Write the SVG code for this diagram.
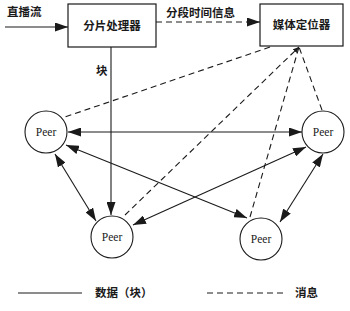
<svg xmlns="http://www.w3.org/2000/svg" width="350" height="311" viewBox="0 0 350 311">
<defs>
<marker id="ah" markerUnits="userSpaceOnUse" markerWidth="13" markerHeight="9" refX="13" refY="4.5" orient="auto-start-reverse">
<path d="M0,0 L13,4.5 L0,9 z" fill="#1a1a1a"/>
</marker>
<marker id="ahs" markerUnits="userSpaceOnUse" markerWidth="6" markerHeight="5" refX="6" refY="2.5" orient="auto">
<path d="M0,0 L6,2.5 L0,5 z" fill="#1a1a1a"/>
</marker>
</defs>
<style>
.box{fill:#fff;stroke:#1a1a1a;stroke-width:1.2}
.peer{fill:#fff;stroke:#1a1a1a;stroke-width:1.1}
.cn{font-family:"Noto Sans CJK SC","Noto Sans",sans-serif;font-size:11.5px;fill:#1a1a1a;font-weight:bold}
.pt{font-family:"Liberation Serif",serif;font-size:11.5px;fill:#1a1a1a;text-anchor:middle}
.s{stroke:#1a1a1a;stroke-width:1.1;fill:none}
.d{stroke:#1a1a1a;stroke-width:1.1;fill:none;stroke-dasharray:6 4}
</style>
<rect width="350" height="311" fill="#fff"/>
<g id="connectors">
<line class="s" x1="5" y1="27" x2="68" y2="27" marker-end="url(#ah)"/>
<line class="d" x1="156" y1="22" x2="260" y2="22" marker-end="url(#ah)"/>
<line class="s" x1="111" y1="47" x2="111" y2="215" marker-end="url(#ah)"/>
<line class="s" x1="68" y1="132" x2="302" y2="132" marker-start="url(#ah)" marker-end="url(#ah)"/>
<line class="s" x1="66" y1="145" x2="247" y2="218" marker-start="url(#ah)" marker-end="url(#ah)"/>
<line class="s" x1="133" y1="225" x2="306" y2="147" marker-start="url(#ah)" marker-end="url(#ah)"/>
<line class="s" x1="55" y1="154" x2="96" y2="221" marker-start="url(#ah)" marker-end="url(#ah)"/>
<line class="s" x1="323" y1="154" x2="280" y2="222" marker-start="url(#ah)" marker-end="url(#ah)"/>
<line class="d" x1="270" y1="47" x2="62" y2="118"/>
<line class="d" x1="125" y1="215" x2="299" y2="47" marker-end="url(#ahs)"/>
<line class="d" x1="250" y1="217" x2="299" y2="47"/>
<line class="d" x1="322" y1="110" x2="299" y2="47"/>
</g>
<g id="input-label"><text class="cn" x="7" y="16">直播流</text></g>
<g id="seg-label"><text class="cn" x="166" y="17">分段时间信息</text></g>
<g id="block-label"><text class="cn" x="96" y="75">块</text></g>
<g id="splitter">
<rect class="box" x="68" y="4" width="88" height="43"/>
<text class="cn" x="112" y="30" text-anchor="middle">分片处理器</text>
</g>
<g id="locator">
<rect class="box" x="260" y="4" width="83" height="42"/>
<text class="cn" x="301.5" y="29" text-anchor="middle">媒体定位器</text>
</g>
<g id="peer1">
<circle class="peer" cx="46" cy="132" r="21"/>
<text class="pt" x="46" y="136">Peer</text>
</g>
<g id="peer2">
<circle class="peer" cx="112" cy="237" r="21"/>
<text class="pt" x="112" y="241">Peer</text>
</g>
<g id="peer3">
<circle class="peer" cx="323" cy="132" r="21"/>
<text class="pt" x="323" y="136">Peer</text>
</g>
<g id="peer4">
<circle class="peer" cx="261" cy="239" r="21"/>
<text class="pt" x="261" y="243">Peer</text>
</g>
<g id="legend">
<line class="s" x1="18" y1="293" x2="82" y2="293"/>
<text class="cn" x="95" y="297">数据（块）</text>
<line class="d" x1="207" y1="293" x2="284" y2="293" stroke-dasharray="6 4.5"/>
<text class="cn" x="295" y="297">消息</text>
</g>
</svg>
